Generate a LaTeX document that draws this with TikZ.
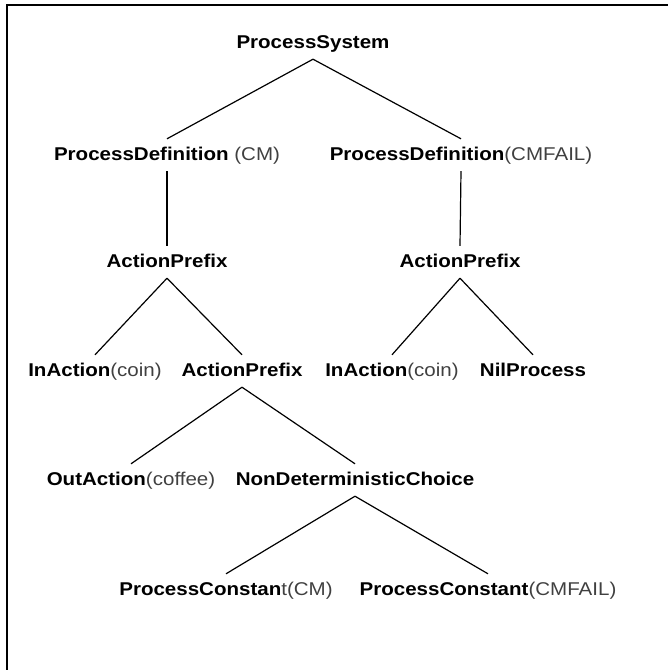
\documentclass[tikz,border=0pt]{standalone}
\usepackage{fontspec}
\setmainfont{Liberation Sans}[FakeStretch=1.11]
\definecolor{txtgray}{gray}{0.25}
\newcommand{\rg}[1]{{\mdseries\color{txtgray}#1}}
\tikzset{nd/.style = {anchor=base, font=\fontsize{18.5}{20}\selectfont\bfseries, inner xsep=0pt, inner ysep=8pt,
                      text height=13pt, text depth=3pt},
         ed/.style = {line width=1.2pt}}

\begin{document}
\begin{tikzpicture}[x=1pt, y=-1pt]
    \useasboundingbox (0,0) rectangle (668,670);
    \draw[line width=1.3pt] (7,670) -- (7,5) -- (668,5);
    \node[nd] (ps)  at (313,48)  {ProcessSystem};
    \node[nd] (pdl) at (167,160) {ProcessDefinition \rg{(CM)}};
    \node[nd] (pdr) at (461,160) {ProcessDefinition\rg{(CMFAIL)}};
    \node[nd] (apl) at (167,267) {ActionPrefix};
    \node[nd] (apr) at (460,267) {ActionPrefix};
    \node[nd] (ial) at (95,376)  {InAction\rg{(coin)}};
    \node[nd] (apm) at (242,376) {ActionPrefix};
    \node[nd] (iar) at (392,376) {InAction\rg{(coin)}};
    \node[nd] (nil) at (533,376) {NilProcess};
    \node[nd] (oa)  at (131,485) {OutAction\rg{(coffee)}};
    \node[nd] (ndc) at (355,485) {NonDeterministicChoice};
    \node[nd] (pcl) at (226,595) {ProcessConstan\rg{t(CM)}};
    \node[nd] (pcr) at (488,595) {ProcessConstant\rg{(CMFAIL)}};
    \draw[ed] (ps.south) -- (pdl.north);
    \draw[ed] (ps.south) -- (pdr.north);
    \draw[ed] (pdl.south) -- (apl.north);
    \draw[ed] (pdr.south) -- (apr.north);
    \draw[ed] (apl.south) -- (ial.north);
    \draw[ed] (apl.south) -- (apm.north);
    \draw[ed] (apr.south) -- (iar.north);
    \draw[ed] (apr.south) -- (nil.north);
    \draw[ed] (apm.south) -- (oa.north);
    \draw[ed] (apm.south) -- (ndc.north);
    \draw[ed] (ndc.south) -- (pcl.north);
    \draw[ed] (ndc.south) -- (pcr.north);
  \end{tikzpicture}
\end{document}
